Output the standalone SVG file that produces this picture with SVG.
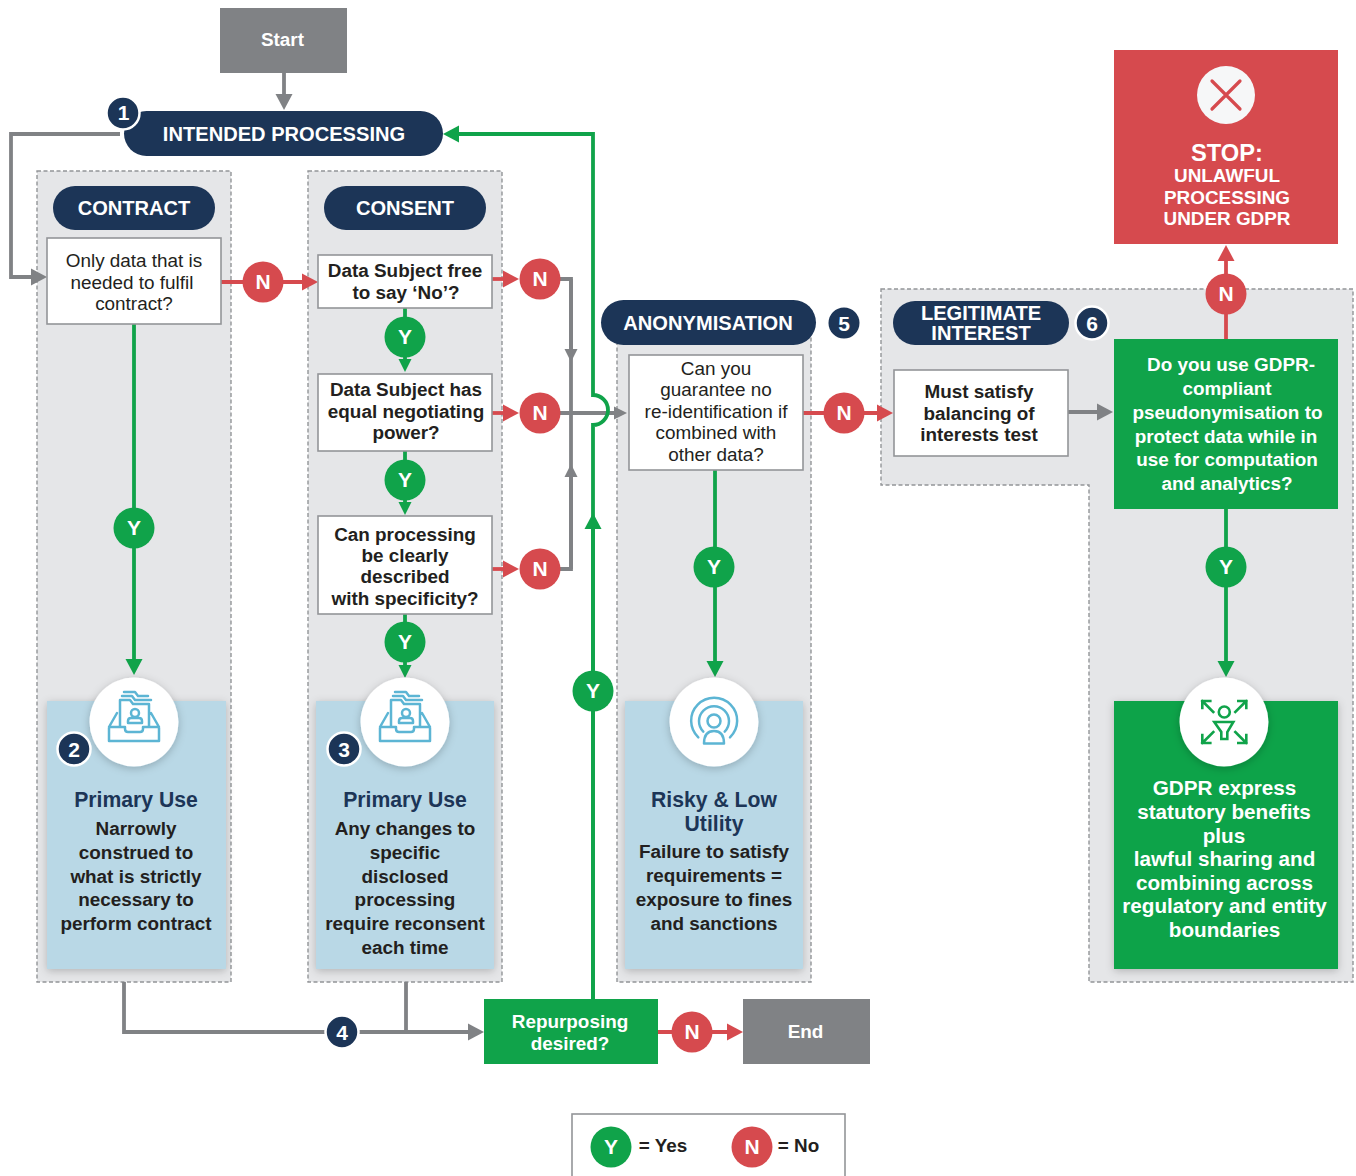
<svg xmlns="http://www.w3.org/2000/svg" xmlns:xlink="http://www.w3.org/1999/xlink" width="1356" height="1176" viewBox="0 0 1356 1176">
<style>
text{font-family:"Liberation Sans",Arial,sans-serif;text-anchor:middle}
.panel{fill:#e5e6e8;stroke:#939598;stroke-width:1.4;stroke-dasharray:4 2.5}
.pill{fill:#1c3557}
.pt{fill:#fff;font-weight:700;font-size:20.1px}
.box{fill:#fff;stroke:#939598;stroke-width:1.6}
.r{fill:#231f20;font-size:18.9px}
.b{fill:#231f20;font-size:18.9px;font-weight:700}
.w{fill:#fff;font-size:18.9px;font-weight:700}
.wl{fill:#fff;font-size:20.7px;font-weight:700}
.ct{fill:#1c3557;font-size:21.2px;font-weight:700}
.card{fill:#b9d8e6;filter:url(#sh)}
.ic{fill:#fff;filter:url(#sh)}
.grn{fill:#10a34a}
.red{fill:#d64a4e}
.gry{fill:#808285}
.lt{fill:#fff;font-weight:700;font-size:21px}
.nt{fill:#fff;font-weight:700;font-size:21px}
.badge{fill:#1c3557;stroke:#fff;stroke-width:2.5}
.g{fill:none;stroke:#808285;stroke-width:3.8}
.gr{fill:none;stroke:#10a34a;stroke-width:3.8}
.rd{fill:none;stroke:#d64a4e;stroke-width:3.8}
.icb{fill:none;stroke:#5cb5d4;stroke-width:2.5;stroke-linejoin:round;stroke-linecap:round}
.icg{fill:none;stroke:#10a34a;stroke-width:2.6;stroke-linecap:square}
</style>
<defs>
<filter id="sh" x="-20%" y="-20%" width="140%" height="140%"><feDropShadow dx="0" dy="2" stdDeviation="4" flood-color="#000" flood-opacity=".22"/></filter>
<marker id="ag" markerUnits="userSpaceOnUse" markerWidth="18" markerHeight="18" refX="6" refY="9" orient="auto"><path d="M0 0.500L16 9L0 17.500z" fill="#808285"/></marker>
<marker id="ags" markerUnits="userSpaceOnUse" markerWidth="18" markerHeight="18" refX="3" refY="9" orient="auto"><path d="M0 2.500L13 9L0 15.500z" fill="#808285"/></marker>
<marker id="agr" markerUnits="userSpaceOnUse" markerWidth="18" markerHeight="18" refX="6" refY="9" orient="auto"><path d="M0 0.500L16 9L0 17.500z" fill="#10a34a"/></marker>
<marker id="agrs" markerUnits="userSpaceOnUse" markerWidth="18" markerHeight="18" refX="3" refY="9" orient="auto"><path d="M0 2.500L13 9L0 15.500z" fill="#10a34a"/></marker>
<marker id="ar" markerUnits="userSpaceOnUse" markerWidth="18" markerHeight="18" refX="6" refY="9" orient="auto"><path d="M0 0.500L16 9L0 17.500z" fill="#d64a4e"/></marker>
<g id="inbox">
<path class="icb" d="M-25 5L-17 -9M25 5L17 -9M-25 5H-9V7Q-9 10 -6 10H6Q9 10 9 7V5H25V19H-25zM-14 5V-22H-4L-1 -18H15V5M-12 -26H-2L1 -22H17M-10 -30H1L4 -26H14"/>
<circle class="icb" cx="1" cy="-9" r="4"/>
<path class="icb" d="M-6 1V-1Q-6 -4 -3 -4H5Q8 -4 8 -1V1z"/>
</g>
</defs>

<g id="panels">
<rect id="panel-contract" class="panel" x="37" y="171" width="194" height="811"/>
<rect id="panel-consent" class="panel" x="308" y="171" width="194" height="811"/>
<rect id="panel-anonymisation" class="panel" x="617" y="330" width="194" height="652"/>
<path id="panel-legitimate" class="panel" d="M881 289H1353V982H1089V485H881z"/>
</g>

<g id="connectors">
<path class="g" marker-end="url(#ag)" d="M284 73V100"/>
<path class="g" marker-end="url(#ag)" d="M120 134H11V277H37"/>
<path class="g" marker-end="url(#ags)" d="M558 279H571V352"/>
<path class="g" marker-end="url(#ags)" d="M558 569H571V474"/>
<path class="g" d="M571 279V569"/>
<path class="g" marker-end="url(#ags)" d="M558 413H617"/>
<path class="g" marker-end="url(#ag)" d="M1068 412H1103"/>
<path class="g" marker-end="url(#ag)" d="M124 982V1032H474"/>
<path class="g" d="M406 982V1032"/>
<path class="gr" marker-end="url(#agr)" d="M593 999V425A15 15 0 0 0 593 395V134H453"/>
<path class="gr" marker-end="url(#agr)" d="M593 999V523"/>
<path class="gr" marker-end="url(#agr)" d="M134 324V665"/>
<path class="gr" marker-end="url(#agrs)" d="M405 308V362"/>
<path class="gr" marker-end="url(#agrs)" d="M405 451V505"/>
<path class="gr" marker-end="url(#agrs)" d="M405 614V668"/>
<path class="gr" marker-end="url(#agr)" d="M715 470V667"/>
<path class="gr" marker-end="url(#agr)" d="M1226 509V667"/>
<path class="rd" marker-end="url(#ar)" d="M221 282H308"/>
<path class="rd" marker-end="url(#ar)" d="M492 279H509"/>
<path class="rd" marker-end="url(#ar)" d="M492 413H509"/>
<path class="rd" marker-end="url(#ar)" d="M492 569H509"/>
<path class="rd" marker-end="url(#ar)" d="M803 413H883"/>
<path class="rd" marker-end="url(#ar)" d="M1226 339V255"/>
<path class="rd" marker-end="url(#ar)" d="M658 1032H733"/>
</g>

<g id="start"><rect class="gry" x="220" y="8" width="127" height="65"/><text class="w" x="282.500" y="46">Start</text></g>

<g id="intended-processing">
<rect class="pill" x="124" y="111" width="319" height="45" rx="22.500"/>
<text class="pt" x="284" y="141">INTENDED PROCESSING</text>
<circle class="badge" cx="123" cy="113" r="16.500"/>
<text class="nt" x="123.500" y="120">1</text>
</g>

<g id="contract-head"><rect class="pill" x="53" y="186" width="162" height="44" rx="22"/><text class="pt" x="134" y="215">CONTRACT</text></g>
<g id="consent-head"><rect class="pill" x="324" y="186" width="162" height="44" rx="22"/><text class="pt" x="405" y="215">CONSENT</text></g>
<g id="anonymisation-head"><rect class="pill" x="601" y="300" width="215" height="45" rx="22.500"/><text class="pt" x="708" y="330">ANONYMISATION</text></g>
<g id="badge-5"><circle class="pill" cx="844" cy="323" r="15.500"/><text class="nt" x="844" y="330.500">5</text></g>
<g id="legitimate-head">
<rect class="pill" x="893" y="301" width="176" height="44" rx="22"/>
<text class="pt" x="981" y="320">LEGITIMATE</text><text class="pt" x="981" y="340">INTEREST</text>
<circle class="badge" cx="1092" cy="323" r="16.500"/><text class="nt" x="1092" y="330.500">6</text>
</g>

<g id="q-contract">
<rect class="box" x="47" y="238" width="174" height="86"/>
<text class="r" x="134" y="267">Only data that is</text><text class="r" x="132" y="288.500">needed to fulfil</text><text class="r" x="134" y="310">contract?</text>
</g>
<g id="q-consent-1">
<rect class="box" x="318" y="255" width="174" height="53"/>
<text class="b" x="405" y="277">Data Subject free</text><text class="b" x="406" y="298.500">to say ‘No’?</text>
</g>
<g id="q-consent-2">
<rect class="box" x="318" y="374" width="174" height="77"/>
<text class="b" x="406" y="396">Data Subject has</text><text class="b" x="406" y="417.500">equal negotiating</text><text class="b" x="406" y="439">power?</text>
</g>
<g id="q-consent-3">
<rect class="box" x="318" y="516" width="174" height="98"/>
<text class="b" x="405" y="541">Can processing</text><text class="b" x="405" y="562">be clearly</text><text class="b" x="405" y="583">described</text><text class="b" x="405" y="604.500">with specificity?</text>
</g>
<g id="q-anonymisation">
<rect class="box" x="629" y="355" width="174" height="115"/>
<text class="r" x="716" y="374.500">Can you</text><text class="r" x="716" y="396">guarantee no</text><text class="r" x="716" y="417.500">re-identification if</text><text class="r" x="716" y="439">combined with</text><text class="r" x="716" y="460.500">other data?</text>
</g>
<g id="q-legitimate">
<rect class="box" x="894" y="370" width="174" height="86"/>
<text class="b" x="979" y="398">Must satisfy</text><text class="b" x="979" y="419.500">balancing of</text><text class="b" x="979" y="441">interests test</text>
</g>
<g id="q-pseudonymisation">
<rect class="grn" x="1114" y="339" width="224" height="170"/>
<text class="w" x="1231" y="371">Do you use GDPR-</text><text class="w" x="1227" y="395">compliant</text><text class="w" x="1227.500" y="419">pseudonymisation to</text><text class="w" x="1226" y="443">protect data while in</text><text class="w" x="1227" y="466">use for computation</text><text class="w" x="1227" y="490">and analytics?</text>
</g>

<g id="stop">
<rect class="red" x="1114" y="50" width="224" height="194"/>
<circle cx="1226" cy="95" r="29" fill="#f6f7f8"/>
<path d="M1212 81L1240 109M1240 81L1212 109" stroke="#d64a4e" stroke-width="3.200" stroke-linecap="round"/>
<text x="1227" y="161" fill="#fff" font-weight="700" font-size="23.7px">STOP:</text>
<text class="w" x="1227" y="182">UNLAWFUL</text><text class="w" x="1227" y="204">PROCESSING</text><text class="w" x="1227" y="225">UNDER GDPR</text>
</g>

<g id="card-primary-contract">
<rect class="card" x="47" y="701" width="179" height="268"/>
<circle class="ic" cx="134" cy="722" r="44.500"/>
<use xlink:href="#inbox" href="#inbox" x="134" y="722"/>
<circle class="badge" cx="74" cy="749" r="16.500"/><text class="nt" x="74" y="756.500">2</text>
<text class="ct" x="136" y="806.500">Primary Use</text>
<text class="b" x="136" y="835">Narrowly</text><text class="b" x="136" y="858.500">construed to</text><text class="b" x="136" y="882.500">what is strictly</text><text class="b" x="136" y="906">necessary to</text><text class="b" x="136" y="930">perform contract</text>
</g>
<g id="card-primary-consent">
<rect class="card" x="316" y="701" width="178" height="268"/>
<circle class="ic" cx="405" cy="722" r="44.500"/>
<use xlink:href="#inbox" href="#inbox" x="405" y="722"/>
<circle class="badge" cx="344" cy="749" r="16.500"/><text class="nt" x="344" y="756.500">3</text>
<text class="ct" x="405" y="806.500">Primary Use</text>
<text class="b" x="405" y="835">Any changes to</text><text class="b" x="405" y="858.500">specific</text><text class="b" x="405" y="882.500">disclosed</text><text class="b" x="405" y="906">processing</text><text class="b" x="405" y="930">require reconsent</text><text class="b" x="405" y="953.500">each time</text>
</g>
<g id="card-risky">
<rect class="card" x="625" y="701" width="178" height="268"/>
<circle class="ic" cx="714" cy="722" r="44.500"/>
<g transform="translate(714,721)">
<circle class="icb" r="6.500"/>
<path class="icb" d="M-15.700 16.300A23 23 0 1 1 16 16.300M-10.700 10.700A15 15 0 1 1 10.700 10.700"/>
<path class="icb" d="M-10 22.500Q-10 10 0 10Q10 10 10 22.500z"/>
</g>
<text class="ct" x="714" y="806.500">Risky &amp; Low</text><text class="ct" x="714" y="830.500">Utility</text>
<text class="b" x="714" y="858">Failure to satisfy</text><text class="b" x="714" y="882">requirements =</text><text class="b" x="714" y="906">exposure to fines</text><text class="b" x="714" y="930">and sanctions</text>
</g>
<g id="card-benefits">
<rect class="grn" x="1114" y="701" width="224" height="268" filter="url(#sh)"/>
<circle class="ic" cx="1224" cy="722" r="44.500"/>
<g transform="translate(1224.300,721)">
<circle class="icg" cy="-9" r="5.500"/>
<path class="icg" style="stroke-linejoin:miter" d="M-10 1H9L3 11V18H-3V11z"/>
<path class="icg" d="M-11 -9L-22 -20M-22 -13V-20H-14M11 -9L22 -20M22 -13V-20H14M-11 11L-22 22M-22 14V22H-14M11 11L22 22M22 14V22H14"/>
</g>
<text class="wl" x="1224.500" y="795">GDPR express</text><text class="wl" x="1224" y="819">statutory benefits</text><text class="wl" x="1224" y="843">plus</text><text class="wl" x="1224.500" y="866">lawful sharing and</text><text class="wl" x="1224.500" y="890">combining across</text><text class="wl" x="1224.500" y="913">regulatory and entity</text><text class="wl" x="1224.500" y="937">boundaries</text>
</g>

<g id="badge-4"><circle class="badge" cx="342" cy="1032" r="16.500"/><text class="nt" x="342" y="1039.500">4</text></g>
<g id="repurposing"><rect class="grn" x="484" y="999" width="174" height="65"/><text class="w" x="570" y="1028">Repurposing</text><text class="w" x="570" y="1050">desired?</text></g>
<g id="end"><rect class="gry" x="743" y="999" width="127" height="65"/><text class="w" x="805.500" y="1037.500">End</text></g>

<g id="y-contract"><circle class="grn" cx="134" cy="528" r="20.500"/><text class="lt" x="134" y="534.500">Y</text></g>
<g id="y-consent-1"><circle class="grn" cx="405" cy="337" r="20.500"/><text class="lt" x="405" y="343.500">Y</text></g>
<g id="y-consent-2"><circle class="grn" cx="405" cy="480" r="20.500"/><text class="lt" x="405" y="486.500">Y</text></g>
<g id="y-consent-3"><circle class="grn" cx="405" cy="642" r="20.500"/><text class="lt" x="405" y="648.500">Y</text></g>
<g id="y-repurposing"><circle class="grn" cx="593" cy="691" r="20.500"/><text class="lt" x="593" y="697.500">Y</text></g>
<g id="y-anonymisation"><circle class="grn" cx="714" cy="567" r="20.500"/><text class="lt" x="714" y="573.500">Y</text></g>
<g id="y-pseudonymisation"><circle class="grn" cx="1226" cy="567" r="20.500"/><text class="lt" x="1226" y="573.500">Y</text></g>
<g id="n-contract"><circle class="red" cx="263" cy="282" r="20.500"/><text class="lt" x="263" y="288.500">N</text></g>
<g id="n-consent-1"><circle class="red" cx="540" cy="279" r="20.500"/><text class="lt" x="540" y="285.500">N</text></g>
<g id="n-consent-2"><circle class="red" cx="540" cy="413" r="20.500"/><text class="lt" x="540" y="419.500">N</text></g>
<g id="n-consent-3"><circle class="red" cx="540" cy="569" r="20.500"/><text class="lt" x="540" y="575.500">N</text></g>
<g id="n-anonymisation"><circle class="red" cx="844" cy="413" r="20.500"/><text class="lt" x="844" y="419.500">N</text></g>
<g id="n-pseudonymisation"><circle class="red" cx="1226" cy="294" r="20.500"/><text class="lt" x="1226" y="300.500">N</text></g>
<g id="n-repurposing"><circle class="red" cx="692" cy="1032" r="20.500"/><text class="lt" x="692" y="1038.500">N</text></g>

<g id="legend">
<rect x="572" y="1114" width="273" height="70" fill="#fff" stroke="#939598" stroke-width="1.6"/>
<circle class="grn" cx="611" cy="1147" r="20.500"/><text class="lt" x="611" y="1153.500">Y</text>
<text class="b" x="663" y="1152">= Yes</text>
<circle class="red" cx="752" cy="1147" r="20.500"/><text class="lt" x="752" y="1153.500">N</text>
<text class="b" x="798.500" y="1152">= No</text>
</g>
</svg>
